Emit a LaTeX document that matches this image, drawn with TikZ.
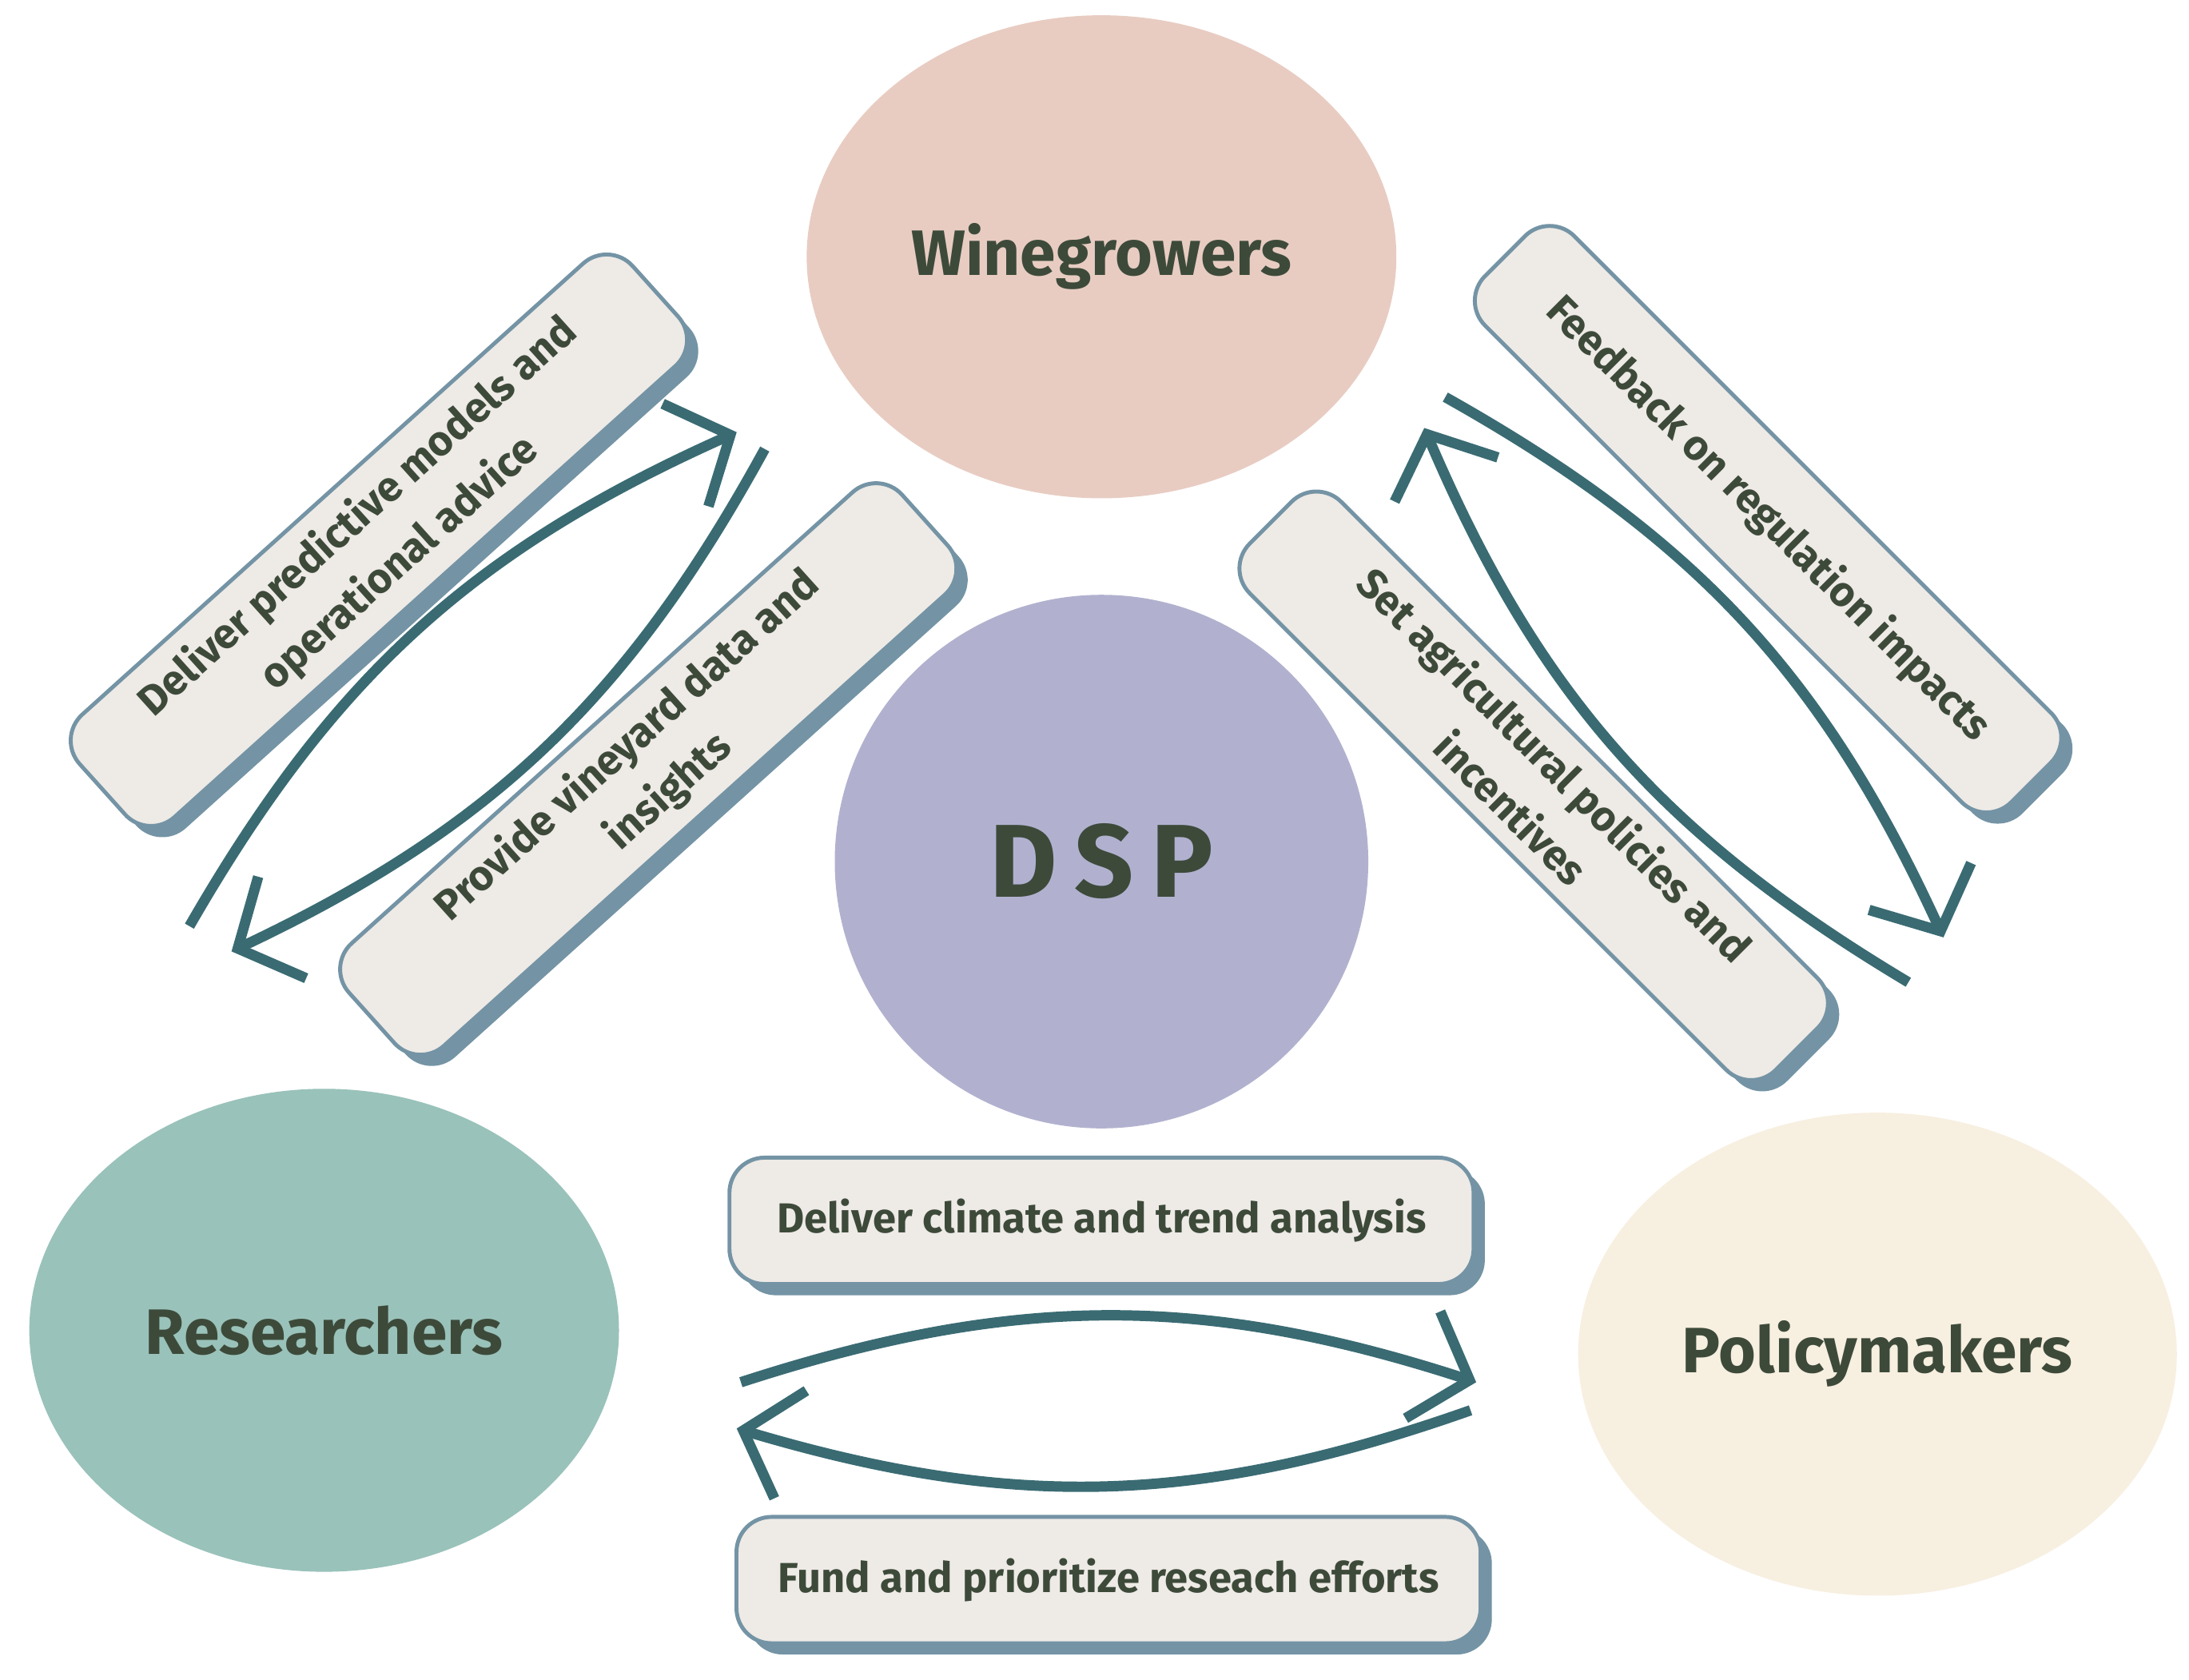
\documentclass[tikz,border=0pt]{standalone}
\usepackage{fontspec}
\setmainfont{Fira Sans}
\usetikzlibrary{shapes.geometric,arrows.meta,shadows,positioning}
\definecolor{txtc}{HTML}{3D4A3A}
\definecolor{arrc}{HTML}{3A6B73}
\definecolor{boxc}{HTML}{EEEAE6}
\definecolor{shdc}{HTML}{7494A5}
\definecolor{dspc}{HTML}{B1B1CF}
\tikzset{
	party/.style={
		ellipse, minimum width=4.2cm, minimum height=3.44cm,
		text=txtc, font=\fontsize{13}{15}\selectfont\bfseries
	},
	%
	hub/.style={
		circle, minimum size=3.8cm, fill=dspc,
		text=txtc, font=\fontsize{21}{24}\selectfont\bfseries
	},
	%
	notebox/.style={
		rectangle, rounded corners=2.5mm, minimum width=5.3cm, minimum height=0.9cm,
		draw=shdc, thick, fill=boxc, align=center, text=txtc,
		font=\fontsize{8.5}{12.5}\selectfont\bfseries,
		drop shadow={shadow xshift=0.08cm, shadow yshift=-0.08cm, fill=shdc, opacity=1}
	},
	%
	flow/.style={
		-{Straight Barb[length=3.5mm,width=8mm]}, line width=2.1pt, draw=arrc, bend left=18
	}
}
\begin{document}
\begin{tikzpicture}[x=0.01cm,y=0.01cm]
    \useasboundingbox (0,0) rectangle (1560,1197);
    \node(W)[party, fill={rgb,255:red,232;green,204;blue,194}] at (785,1014){Winegrowers};
    \node(D)[hub] at (785,583){D\,S\,P};
    \node(R)[party, fill={rgb,255:red,153;green,194;blue,186}] at (231,249){Researchers};
    \node(P)[party, fill={rgb,255:red,247;green,239;blue,224}] at (1338,232){Policymakers};
    % labels
    \node(L1)[notebox, rotate=42] at (270,812){Deliver predictive models and\\operational advice};
    \node(L2)[notebox, rotate=42] at (462,649){Provide vineyard data and\\insights};
    \node(L3)[notebox, rotate=-45] at (1260,827){Feedback on regulation impacts};
    \node(L4)[notebox, rotate=-45] at (1093,637){Set agricultural policies and\\incentives};
    \node(L5)[notebox] at (785,327){Deliver climate and trend analysis};
    \node(L6)[notebox] at (790,71){Fund and prioritize reseach efforts};
    % arrow ends
    \coordinate(a1) at (135,537); \coordinate(b1) at (525,889);
    \coordinate(a2) at (545,877); \coordinate(b2) at (165,519);
    \coordinate(a3) at (1360,497); \coordinate(b3) at (1015,892);
    \coordinate(a4) at (1030,914); \coordinate(b4) at (1385,529);
    \coordinate(a5) at (528,212); \coordinate(b5) at (1052,212);
    \coordinate(a6) at (1048,192); \coordinate(b6) at (525,179);
    \draw[flow] (a1) to (b1);
    \draw[flow] (a2) to (b2);
    \draw[flow] (a3) to (b3);
    \draw[flow] (a4) to (b4);
    \draw[flow] (a5) to (b5);
    \draw[flow] (a6) to (b6);
\end{tikzpicture}
\end{document}
